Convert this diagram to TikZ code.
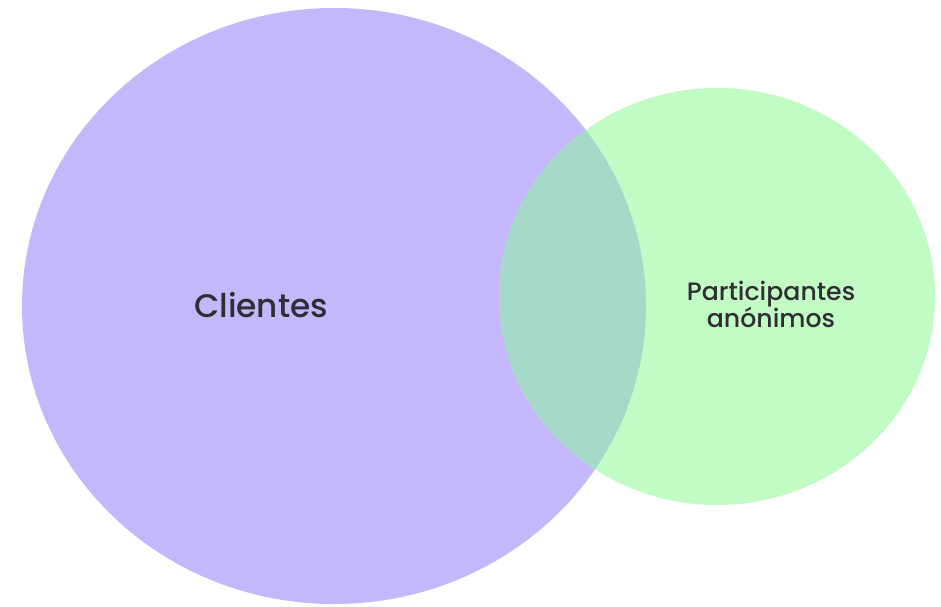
\documentclass[tikz,border=0pt]{standalone}
\usepackage{fontspec}
\setmainfont{Poppins}[UprightFont=* Medium]
\definecolor{purplec}{RGB}{196,183,252}
\definecolor{greenc}{RGB}{194,252,197}
\definecolor{overlapc}{RGB}{166,218,200}
\definecolor{textc}{RGB}{48,46,52}
\begin{document}
\begin{tikzpicture}[x=1pt,y=-1pt,
  lbl/.style={text=textc,align=center,inner sep=0pt}]
\useasboundingbox (0,0) rectangle (941,606);
\fill[white] (0,0) rectangle (941,606);
\fill[purplec] (334,306) ellipse [x radius=312, y radius=298];
\fill[greenc] (717,296.5) ellipse [x radius=218, y radius=208.5];
\begin{scope}
\clip (717,296.5) ellipse [x radius=218, y radius=208.5];
\fill[overlapc] (334,306) ellipse [x radius=312, y radius=298];
\end{scope}
\node[lbl,font=\fontsize{32.7}{38}\selectfont] (clientes) at (261,305) {Clientes};
\node[lbl,font=\fontsize{25.2}{27}\selectfont] (part) at (771,304) {Participantes\\an\'onimos};
\end{tikzpicture}
\end{document}
